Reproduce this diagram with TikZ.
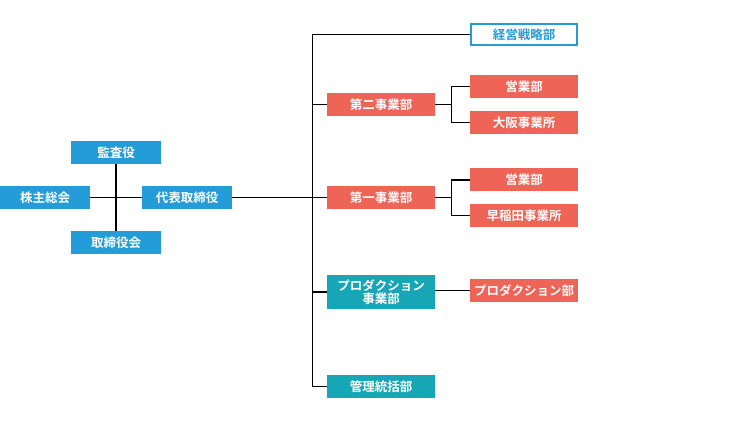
\documentclass[tikz,border=0pt]{standalone}
\usepackage{fontspec}
\newfontfamily\jp{Noto Sans CJK JP}[BoldFont={* Bold}]
\definecolor{cblue}{HTML}{239CD8}
\definecolor{cred}{HTML}{EE6457}
\definecolor{cteal}{HTML}{17A6B5}
\begin{document}
\begin{tikzpicture}[x=1pt,y=-1pt,
  box/.style={minimum width=90pt,minimum height=23pt,inner sep=0pt,text=white,font=\jp\bfseries\fontsize{12.5}{14}\selectfont,align=center},
  bluebox/.style={box,fill=cblue},
  redbox/.style={box,fill=cred,minimum width=108pt},
  tealbox/.style={box,fill=cteal,minimum width=108pt},
  outbox/.style={box,draw=cblue,line width=1.2pt,fill=white,text=cblue,minimum width=106pt,minimum height=21pt},
  conn/.style={line width=1.1pt,draw=black,line join=miter}]
\useasboundingbox (0,0) rectangle (753,422);
\fill[white] (0,0) rectangle (753,422);
% left
\node[bluebox] (kansa) at (116,152.5) {監査役};
\node[bluebox] (kabu) at (45,197.5) {株主総会};
\node[bluebox] (daihyo) at (187,197.5) {代表取締役};
\node[bluebox] (torikai) at (116,242.5) {取締役会};
% middle
\node[redbox] (dai2) at (381,104.5) {第二事業部};
\node[redbox] (dai1) at (381,197.5) {第一事業部};
\node[tealbox,minimum height=34pt,font=\jp\bfseries\fontsize{12.5}{13}\selectfont] (prodj) at (381,292) {プロダクション\\事業部};
\node[tealbox] (kanri) at (381,386.5) {管理統括部};
% right
\node[outbox] (keiei) at (524,34.5) {経営戦略部};
\node[redbox] (eigyo1) at (524,86.5) {営業部};
\node[redbox] (osaka) at (524,122.5) {大阪事業所};
\node[redbox] (eigyo2) at (524,180) {営業部};
\node[redbox] (waseda) at (524,215.5) {早稲田事業所};
\node[redbox] (prodb) at (524,290.5) {プロダクション部};
% connectors
\coordinate (trtop) at (312.5,34.5);
\coordinate (trbot) at (312.5,386.5);
\coordinate (br2) at (451.5,104.5);
\coordinate (br1) at (451.5,197.5);
\draw[conn] (kabu.east) -- (daihyo.west);
\draw[conn] (kansa.south) -- (torikai.north);
\draw[conn] (keiei.west) -- (trtop) -- (trbot) -- (kanri.west);
\draw[conn] (daihyo.east) -- (daihyo.east -| trtop);
\draw[conn] (dai2.west) -- (dai2.west -| trtop);
\draw[conn] (dai1.west) -- (dai1.west -| trtop);
\draw[conn] (prodj.west) -- (prodj.west -| trtop);
\draw[conn] (eigyo1.west) -| (br2) |- (osaka.west);
\draw[conn] (dai2.east) -- (br2);
\draw[conn] (eigyo2.west) -| (br1) |- (waseda.west);
\draw[conn] (dai1.east) -- (br1);
\draw[conn] (prodj.east |- prodb.west) -- (prodb.west);
\end{tikzpicture}
\end{document}
